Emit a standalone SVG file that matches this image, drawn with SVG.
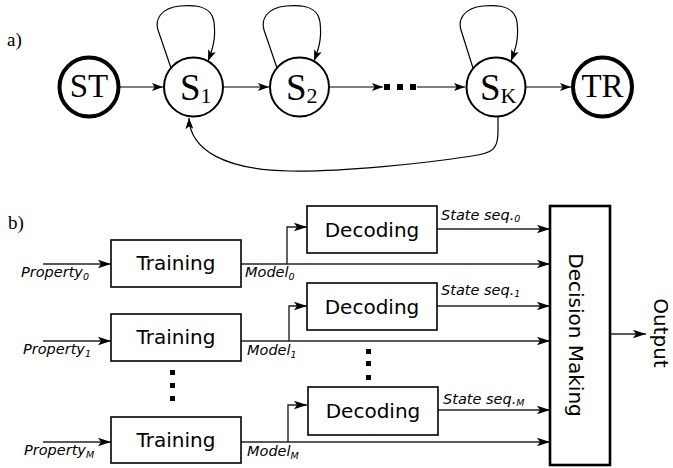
<svg xmlns="http://www.w3.org/2000/svg" width="673" height="468" viewBox="0 0 673 468">
  <defs>
    <marker id="tipA" markerUnits="userSpaceOnUse" markerWidth="12" markerHeight="10" viewBox="0 0 12 10" refX="11" refY="5" orient="auto">
      <path d="M0,1 L11,5 L0,9 L2.5,5 Z" fill="#000"/>
    </marker>
    <marker id="tipB" markerUnits="userSpaceOnUse" markerWidth="14" markerHeight="10" viewBox="0 0 14 10" refX="13" refY="5" orient="auto">
      <path d="M0,0.8 L13,5 L0,9.2 L3,5 Z" fill="#000"/>
    </marker>
  </defs>
  <style>
    .serif { font-family: "Liberation Serif", "Times New Roman", serif; fill: #000; }
    .sans { font-family: "DejaVu Sans", "Liberation Sans", sans-serif; fill: #000; }
    .state { fill: #fff; stroke: #000; stroke-width: 2; }
    .term { fill: #fff; stroke: #000; stroke-width: 4; }
    .edge { fill: none; stroke: #000; stroke-width: 1.2; marker-end: url(#tipA); }
    .box { fill: #fff; stroke: #000; stroke-width: 1.6; }
    .dm { fill: #fff; stroke: #000; stroke-width: 2.6; }
    .flow { fill: none; stroke: #222; stroke-width: 1.4; marker-end: url(#tipB); }
    .blk { font-size: 20px; text-anchor: middle; }
    .lbl { font-size: 14.5px; font-style: italic; }
    .sub { font-size: 9.5px; }
  </style>

  <!-- a) state chain -->
  <text class="serif" x="7" y="46" font-size="19">a)</text>

  <g id="connectors-a">
    <path class="edge" d="M119,87 L163,87"/>
    <path class="edge" d="M223,87 L269,87"/>
    <path class="edge" d="M330,87 L383,87"/>
    <path class="edge" d="M417,87 L465,87"/>
    <path class="edge" d="M526,87 L571,87"/>
    <!-- self loops -->
    <path class="edge" d="M171,68 L158,30 C155,20 160,8 180,6 C200,4 212,8 214,22 C216,38 213,48 208,61"/>
    <path class="edge" d="M277,68 L264,30 C261,20 266,8 286,6 C306,4 318,8 320,22 C322,38 319,48 314,61"/>
    <path class="edge" d="M473,68 L461,30 C458,20 463,8 483,6 C503,4 515,8 517,22 C519,38 516,48 511,61"/>
    <!-- return edge -->
    <path class="edge" d="M498,117 L498,132 C498,150 492,153 472,156 C420,164 340,172 290,171 C225,170 190,150 189,118"/>
  </g>

  <g id="ellipsis-a" fill="#000">
    <rect x="384" y="84" width="6" height="6"/>
    <rect x="397" y="84" width="6" height="6"/>
    <rect x="410" y="84" width="6" height="6"/>
  </g>

  <g id="node-ST">
    <circle class="term" cx="89" cy="87" r="29.5"/>
    <text class="serif" x="89" y="97" font-size="33" text-anchor="middle">ST</text>
  </g>
  <g id="node-S1">
    <circle class="state" cx="193.5" cy="87" r="29.5"/>
    <text class="serif" x="180" y="100" font-size="37">S<tspan font-size="22" dy="3">1</tspan></text>
  </g>
  <g id="node-S2">
    <circle class="state" cx="299.5" cy="87" r="29.5"/>
    <text class="serif" x="286" y="100" font-size="37">S<tspan font-size="22" dy="3">2</tspan></text>
  </g>
  <g id="node-SK">
    <circle class="state" cx="496" cy="87" r="29.5"/>
    <text class="serif" x="480" y="100" font-size="37">S<tspan font-size="22" dy="3">K</tspan></text>
  </g>
  <g id="node-TR">
    <circle class="term" cx="602.5" cy="87" r="29.5"/>
    <text class="serif" x="602.5" y="97" font-size="33" text-anchor="middle">TR</text>
  </g>

  <!-- b) processing pipeline -->
  <text class="serif" x="8" y="229" font-size="19">b)</text>

  <g id="connectors-b">
    <path class="flow" d="M43,264 L111,264"/>
    <path class="flow" d="M43,341 L111,341"/>
    <path class="flow" d="M43,442 L111,442"/>
    <path class="flow" d="M241,264 L550,264"/>
    <path class="flow" d="M287,264 L287,227 L307,227"/>
    <path class="flow" d="M241,341 L550,341"/>
    <path class="flow" d="M289,341 L289,306 L307,306"/>
    <path class="flow" d="M240,442 L550,442"/>
    <path class="flow" d="M288,442 L288,405 L307,405"/>
    <path class="flow" d="M437,229 L550,229"/>
    <path class="flow" d="M437,306 L550,306"/>
    <path class="flow" d="M438,410 L550,410"/>
    <path class="flow" d="M610,334 L646,334"/>
  </g>

  <g id="labels-b" class="sans lbl">
    <text x="21" y="277">Property<tspan class="sub" dy="3">0</tspan></text>
    <text x="23" y="354">Property<tspan class="sub" dy="3">1</tspan></text>
    <text x="24" y="455">Property<tspan class="sub" dy="3">M</tspan></text>
    <text x="245" y="277">Model<tspan class="sub" dy="3">0</tspan></text>
    <text x="247" y="355">Model<tspan class="sub" dy="3">1</tspan></text>
    <text x="247" y="456">Model<tspan class="sub" dy="3">M</tspan></text>
    <text x="441" y="220">State seq.<tspan class="sub" dy="2">0</tspan></text>
    <text x="441" y="295">State seq.<tspan class="sub" dy="2">1</tspan></text>
    <text x="443" y="404">State seq.<tspan class="sub" dy="2">M</tspan></text>
  </g>

  <g id="node-training0">
    <rect class="box" x="111" y="240" width="130" height="47"/>
    <text class="sans blk" x="176" y="270">Training</text>
  </g>
  <g id="node-training1">
    <rect class="box" x="111" y="314" width="130" height="47"/>
    <text class="sans blk" x="176" y="344">Training</text>
  </g>
  <g id="node-trainingM">
    <rect class="box" x="111" y="417" width="130" height="46"/>
    <text class="sans blk" x="176" y="447">Training</text>
  </g>
  <g id="ellipsis-training" fill="#000">
    <rect x="170" y="370" width="5" height="5"/>
    <rect x="170" y="383" width="5" height="5"/>
    <rect x="170" y="396" width="5" height="5"/>
  </g>

  <g id="node-decoding0">
    <rect class="box" x="307" y="206" width="130" height="47"/>
    <text class="sans blk" x="372" y="237">Decoding</text>
  </g>
  <g id="node-decoding1">
    <rect class="box" x="307" y="283" width="130" height="47"/>
    <text class="sans blk" x="372" y="314">Decoding</text>
  </g>
  <g id="node-decodingM">
    <rect class="box" x="308" y="387" width="130" height="48"/>
    <text class="sans blk" x="373" y="418">Decoding</text>
  </g>
  <g id="ellipsis-decoding" fill="#000">
    <rect x="366" y="349" width="5" height="5"/>
    <rect x="366" y="361" width="5" height="5"/>
    <rect x="366" y="375" width="5" height="5"/>
  </g>

  <g id="node-decision">
    <rect class="dm" x="550" y="206" width="60" height="259"/>
    <text class="sans blk" transform="translate(569,335) rotate(90)" x="0" y="0">Decision Making</text>
  </g>

  <g id="node-output">
    <text class="sans blk" transform="translate(654,333) rotate(90)" x="0" y="0">Output</text>
  </g>
</svg>
